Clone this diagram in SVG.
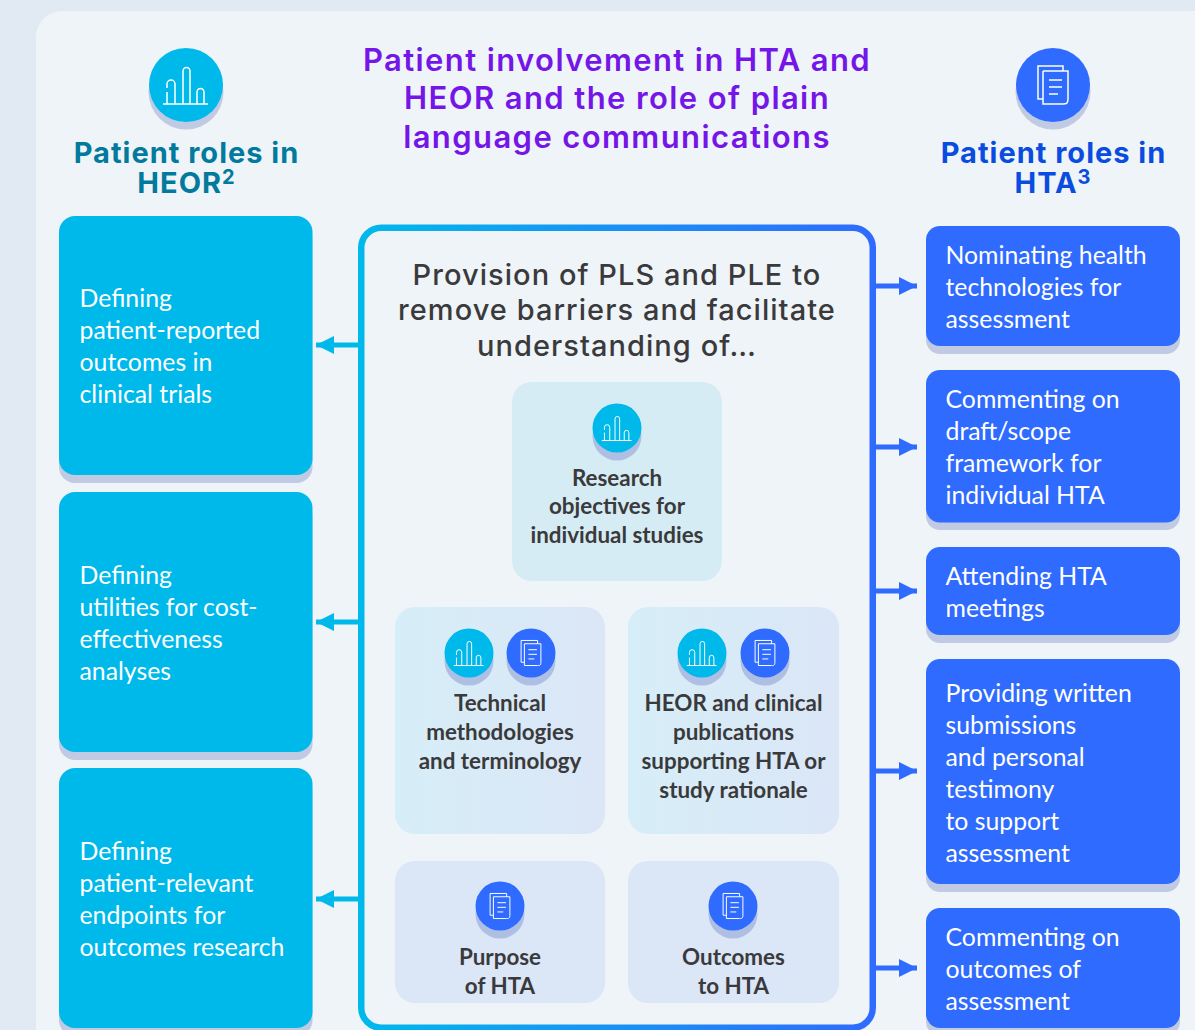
<svg xmlns="http://www.w3.org/2000/svg" xmlns:xlink="http://www.w3.org/1999/xlink" width="1195" height="1030" viewBox="0 0 1195 1030">
<defs>
<style>
.title{font:600 31px Inter,"Open Sans",sans-serif;fill:#7516e8;text-anchor:middle;letter-spacing:1.4px}
.hd{font:700 29px Inter,"Open Sans",sans-serif;text-anchor:middle;letter-spacing:1px}
.sup{font-size:20px}
.cen{font:500 29px Inter,"Open Sans",sans-serif;fill:#3a3a3c;text-anchor:middle;letter-spacing:1.05px}
.body{font:400 24.8px Lato,"Open Sans",sans-serif;fill:#fff}
.lab{font:700 22.4px Lato,"Open Sans",sans-serif;fill:#3a3a3c;text-anchor:middle}
.cy{fill:#00b9eb}.bl{fill:#2f6bff}
.sh{fill:#c0cae3}.sh2{fill:#aebfe3}
.ic{fill:none;stroke:#fff;stroke-width:1.5}
.card{fill:#dbe6f7}
</style>
<linearGradient id="fg" x1="0" x2="1" y1="0" y2="0"><stop offset="0" stop-color="#00b9eb"/><stop offset="1" stop-color="#2f6bff"/></linearGradient>
<linearGradient id="cg" x1="0" x2="1" y1="0" y2="0"><stop offset="0" stop-color="#d6eef7"/><stop offset="1" stop-color="#dbe6f7"/></linearGradient>
<marker id="ac" markerUnits="userSpaceOnUse" markerWidth="18" markerHeight="18" refX="18" refY="9" orient="auto"><path d="M0 0L18 9L0 18Z" fill="#00b9eb"/></marker>
<marker id="ab" markerUnits="userSpaceOnUse" markerWidth="18" markerHeight="18" refX="18" refY="9" orient="auto"><path d="M0 0L18 9L0 18Z" fill="#2f6bff"/></marker>
<g id="bars" class="ic"><path d="M-23 19H22M-19 19V7M-19 3V-1a4 4 0 0 1 8 0V19M-3 19V-14a3.5 3.5 0 0 1 7 0V19M11 19V7a3.5 3.5 0 0 1 7 0V19"/></g>
<g id="docs" class="ic"><path d="M-10 14H-15V-19H10V-14M-10 -14H15V14M15 14C15 19 13 19 10 19H-10V-14M-4 -5H9M-4 2H9M-4 9H5"/></g>
</defs>
<rect width="1195" height="1030" fill="#e1eaf3"/>
<rect x="36" y="11" width="1200" height="1060" rx="26" fill="#eff4f9"/>
<text class="title" x="617" y="71">Patient involvement in HTA and</text>
<text class="title" x="617" y="109">HEOR and the role of plain</text>
<text class="title" x="617" y="148">language communications</text>

<g id="head-heor">
<circle class="sh" cx="186" cy="92" r="37.5"/><circle class="cy" cx="186" cy="85" r="37"/><use href="#bars" x="186" y="85"/>
<text class="hd" x="186.500" y="163" fill="#027a9e">Patient roles in</text>
<text class="hd" x="186.500" y="193" fill="#027a9e">HEOR<tspan class="sup" dy="-9">2</tspan></text>
</g>
<g id="head-hta">
<circle class="sh" cx="1053" cy="92" r="37.500"/><circle class="bl" cx="1053" cy="85" r="37"/><use href="#docs" x="1053" y="85"/>
<text class="hd" x="1053.500" y="163" fill="#0a4be0">Patient roles in</text>
<text class="hd" x="1053" y="193" fill="#0a4be0">HTA<tspan class="sup" dy="-9">3</tspan></text>
</g>

<g id="connectors" stroke-width="5" fill="none">
<g stroke="#00b9eb">
<path d="M358 345H316" marker-end="url(#ac)"/><path d="M358 622H316" marker-end="url(#ac)"/><path d="M358 899H316" marker-end="url(#ac)"/>
</g>
<g stroke="#2f6bff">
<path d="M876 286H917" marker-end="url(#ab)"/><path d="M876 447H917" marker-end="url(#ab)"/><path d="M876 591H917" marker-end="url(#ab)"/><path d="M876 771H917" marker-end="url(#ab)"/><path d="M876 968H917" marker-end="url(#ab)"/>
</g>
</g>

<g id="heor-1"><rect class="sh" x="59" y="224" width="253.500" height="259" rx="16"/><rect class="cy" x="59" y="216" width="253.500" height="259" rx="16"/>
<text class="body"><tspan x="79.500" y="307">Defining</tspan><tspan x="79.500" y="339">patient-reported</tspan><tspan x="79.500" y="371">outcomes in</tspan><tspan x="79.500" y="403">clinical trials</tspan></text></g>
<g id="heor-2"><rect class="sh" x="59" y="500" width="253.500" height="260" rx="16"/><rect class="cy" x="59" y="492" width="253.500" height="260" rx="16"/>
<text class="body"><tspan x="79.500" y="584">Defining</tspan><tspan x="79.500" y="616">utilities for cost-</tspan><tspan x="79.500" y="648">effectiveness</tspan><tspan x="79.500" y="680">analyses</tspan></text></g>
<g id="heor-3"><rect class="sh" x="59" y="776" width="253.500" height="260" rx="16"/><rect class="cy" x="59" y="768" width="253.500" height="260" rx="16"/>
<text class="body"><tspan x="79.500" y="860">Defining</tspan><tspan x="79.500" y="892">patient-relevant</tspan><tspan x="79.500" y="924">endpoints for</tspan><tspan x="79.500" y="956">outcomes research</tspan></text></g>

<g id="hta-1"><rect class="sh" x="926" y="234" width="254" height="120" rx="14"/><rect class="bl" x="926" y="226" width="254" height="120" rx="14"/>
<text class="body"><tspan x="945.500" y="264">Nominating health</tspan><tspan x="945.500" y="296">technologies for</tspan><tspan x="945.500" y="328">assessment</tspan></text></g>
<g id="hta-2"><rect class="sh" x="926" y="378" width="254" height="152" rx="14"/><rect class="bl" x="926" y="370" width="254" height="152.500" rx="14"/>
<text class="body"><tspan x="945.500" y="408">Commenting on</tspan><tspan x="945.500" y="440">draft/scope</tspan><tspan x="945.500" y="472">framework for</tspan><tspan x="945.500" y="504">individual HTA</tspan></text></g>
<g id="hta-3"><rect class="sh" x="926" y="555" width="254" height="88" rx="14"/><rect class="bl" x="926" y="547" width="254" height="88" rx="14"/>
<text class="body"><tspan x="945.500" y="585">Attending HTA</tspan><tspan x="945.500" y="617">meetings</tspan></text></g>
<g id="hta-4"><rect class="sh" x="926" y="667" width="254" height="225" rx="14"/><rect class="bl" x="926" y="659" width="254" height="225" rx="14"/>
<text class="body"><tspan x="945.500" y="702">Providing written</tspan><tspan x="945.500" y="734">submissions</tspan><tspan x="945.500" y="766">and personal</tspan><tspan x="945.500" y="798">testimony</tspan><tspan x="945.500" y="830">to support</tspan><tspan x="945.500" y="862">assessment</tspan></text></g>
<g id="hta-5"><rect class="sh" x="926" y="916" width="254" height="120" rx="14"/><rect class="bl" x="926" y="908" width="254" height="120" rx="14"/>
<text class="body"><tspan x="945.500" y="946">Commenting on</tspan><tspan x="945.500" y="978">outcomes of</tspan><tspan x="945.500" y="1010">assessment</tspan></text></g>

<g id="centre">
<rect x="361.250" y="227.750" width="511.500" height="800" rx="20" fill="#eff4f9" stroke="url(#fg)" stroke-width="6.500"/>
<text class="cen" x="617" y="285">Provision of PLS and PLE to</text>
<text class="cen" x="617" y="320">remove barriers and facilitate</text>
<text class="cen" x="617" y="356">understanding of…</text>
</g>

<g id="card-objectives"><rect x="512" y="382" width="210" height="199" rx="20" fill="#d6ecf5"/>
<circle class="sh2" cx="617" cy="436" r="24.500"/><circle class="cy" cx="617" cy="428" r="24.500"/><use href="#bars" transform="translate(617 428) scale(.66)"/>
<text class="lab"><tspan x="617" y="486">Research</tspan><tspan x="617" y="514">objectives for</tspan><tspan x="617" y="543">individual studies</tspan></text></g>

<g id="card-technical"><rect x="395" y="607" width="210" height="227" rx="20" fill="url(#cg)"/>
<circle class="sh2" cx="469" cy="661" r="24.500"/><circle class="cy" cx="469" cy="653" r="24.500"/><use href="#bars" transform="translate(469 653) scale(.66)"/>
<circle class="sh2" cx="531" cy="661" r="24.500"/><circle class="bl" cx="531" cy="653" r="24.500"/><use href="#docs" transform="translate(531 653) scale(.66)"/>
<text class="lab"><tspan x="500" y="711">Technical</tspan><tspan x="500" y="740">methodologies</tspan><tspan x="500" y="769">and terminology</tspan></text></g>

<g id="card-publications"><rect x="628" y="607" width="211" height="227" rx="20" fill="url(#cg)"/>
<circle class="sh2" cx="702" cy="661" r="24.500"/><circle class="cy" cx="702" cy="653" r="24.500"/><use href="#bars" transform="translate(702 653) scale(.66)"/>
<circle class="sh2" cx="765" cy="661" r="24.500"/><circle class="bl" cx="765" cy="653" r="24.500"/><use href="#docs" transform="translate(765 653) scale(.66)"/>
<text class="lab"><tspan x="733.500" y="711">HEOR and clinical</tspan><tspan x="733.500" y="740">publications</tspan><tspan x="733.500" y="769">supporting HTA or</tspan><tspan x="733.500" y="798">study rationale</tspan></text></g>

<g id="card-purpose"><rect class="card" x="395" y="861" width="210" height="142" rx="20"/>
<circle class="sh2" cx="500" cy="914" r="24.500"/><circle class="bl" cx="500" cy="906" r="24.500"/><use href="#docs" transform="translate(500 906) scale(.66)"/>
<text class="lab"><tspan x="500" y="965">Purpose</tspan><tspan x="500" y="994">of HTA</tspan></text></g>

<g id="card-outcomes"><rect class="card" x="628" y="861" width="211" height="142" rx="20"/>
<circle class="sh2" cx="733" cy="914" r="24.500"/><circle class="bl" cx="733" cy="906" r="24.500"/><use href="#docs" transform="translate(733 906) scale(.66)"/>
<text class="lab"><tspan x="733.500" y="965">Outcomes</tspan><tspan x="733.500" y="994">to HTA</tspan></text></g>
</svg>
